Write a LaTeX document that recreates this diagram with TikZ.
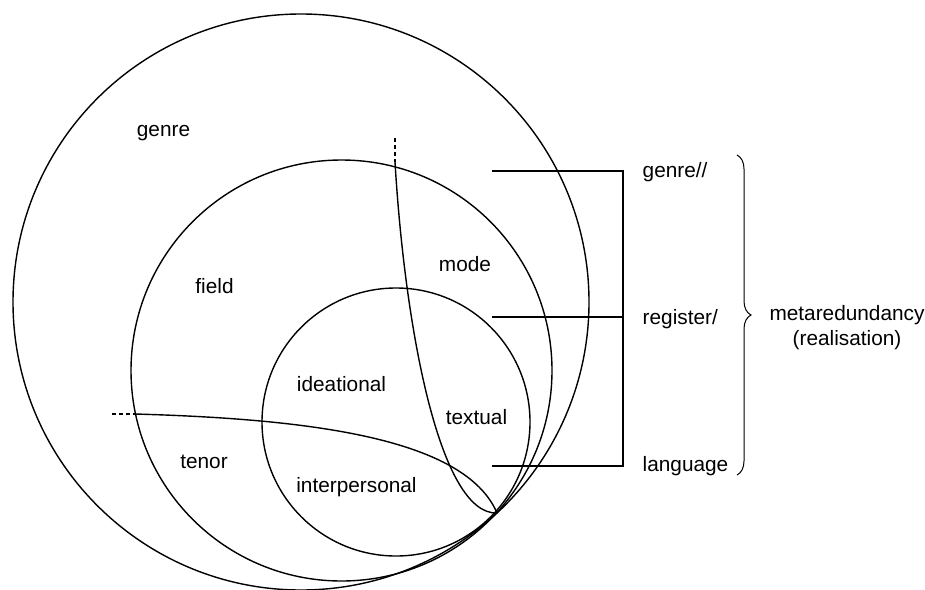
\documentclass[tikz,border=0pt]{standalone}
\usepackage{fontspec}
\setmainfont{Liberation Sans}
\usepackage{tikz}
\usetikzlibrary{calc}
\usetikzlibrary{positioning}
\usetikzlibrary{decorations.pathreplacing}

\begin{document}
\begin{tikzpicture}[x=0.5pt, y=-0.5pt, line width=0.7pt,                    % pixel grid, y runs downwards
	                    lbl/.style={inner sep=0pt, anchor=base, font=\fontsize{10.4}{12.5}\selectfont},
	                    side/.style={lbl, anchor=base west},                    % labels right of the bracket
	                    open end/.style={dash pattern=on 2pt off 1.5pt}]        % dashed continuation
	\useasboundingbox (0,0) rectangle (925,589);
	% the three strata
	\coordinate (cgenre) at (301,302);
	\coordinate (creg) at (341.5,370.5);
	\coordinate (clang) at (396,422);
	\draw (cgenre) circle [radius=288];
	\draw (creg) circle [radius=210.5];
	\draw (clang) circle [radius=134];
	% mode and tenor boundaries
	\coordinate (tip) at (497,513);
	\coordinate (mtop) at (395,138);
	\coordinate (mstart) at (395,162);
	\coordinate (ttop) at (112,414);
	\coordinate (tstart) at (135,414);
	\draw[open end] (mtop) -- (mstart);
	\draw (mstart) .. controls (405,330) and (440,515) .. (tip);
	\draw[open end] (ttop) -- (tstart);
	\draw (tstart) .. controls (310,419) and (465,438) .. (tip);
	% labels inside
	\node[lbl] (genre) at (163.5,136) {genre};
	\node[lbl] (field) at (214.5,293) {field};
	\node[lbl] (mode) at (465,271.5) {mode};
	\node[lbl] (ideat) at (341.5,391.5) {ideational};
	\node[lbl] (textual) at (476.5,424) {textual};
	\node[lbl] (tenor) at (204,468) {tenor};
	\node[lbl] (interp) at (356.5,492) {interpersonal};
	% bracket
	\coordinate (gl) at (492,171);
	\coordinate (gr) at (623,171);
	\coordinate (rl) at (492,317);
	\coordinate (rr) at (623,317);
	\coordinate (ll) at (492,466);
	\coordinate (lr) at (623,466);
	\draw[line width=0.6pt] (gl) -- (gr) -- (lr) -- (ll);
	\draw[line width=0.6pt] (rl) -- (rr);
	\node[side] (sgenre) at (642,177) {genre//};
	\node[side] (sreg) at (642,324) {register/};
	\node[side] (slang) at (642,471) {language};
	% brace
	\coordinate (btop) at (737,155);
	\coordinate (bbot) at (737,475);
	\draw[line width=0.5pt, decorate, decoration={brace, amplitude=7pt}] (btop) -- (bbot);
	\node[lbl] (meta) at (847,320) {metaredundancy};
	\node[lbl] (realis) at (847,345) {(realisation)};
\end{tikzpicture}
\end{document}
